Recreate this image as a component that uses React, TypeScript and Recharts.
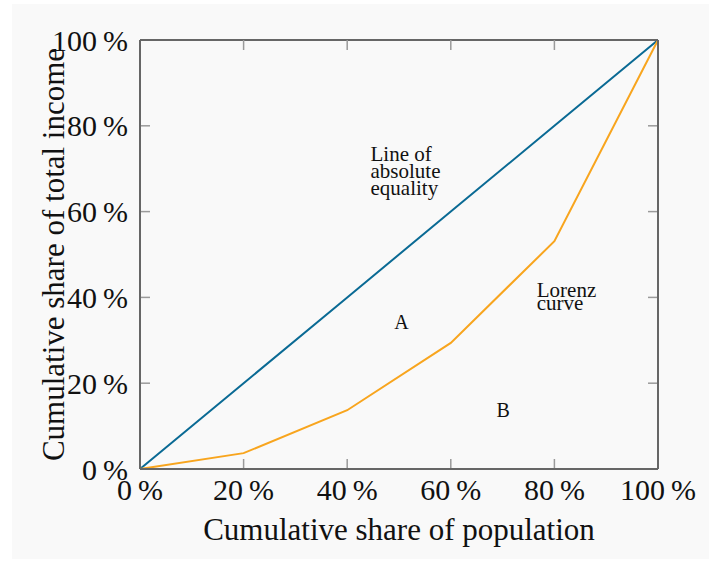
import React from "react";
import { LineChart, Line, XAxis, YAxis, ReferenceDot, ReferenceLine } from "recharts";

const populationShare = [0, 20, 40, 60, 80, 100];
const equalityShare = [0, 20, 40, 60, 80, 100];
const lorenzShare = [0, 3.7, 13.7, 29.4, 53.1, 100];
const axisTicks = [0, 20, 40, 60, 80, 100];
const innerTicks = [20, 40, 60, 80];

const data = populationShare.map((p, i) => ({
  p,
  equality: equalityShare[i],
  lorenz: lorenzShare[i],
}));

const FONT = "'Liberation Serif', 'DejaVu Serif', serif";
const fmt = (v: number) => `${v}\u2009%`;
const TICK_COLOR = "#9a9a9a";
const AXIS_COLOR = "#666";
const tickFont = { fill: "#111", fontFamily: FONT, fontSize: 30 };
// tick mark length expressed in axis units (about 10px on each axis)
const TICK_LEN_X = 1.93;
const TICK_LEN_Y = 2.33;

const emptyTick = () => <g />;

const multiLine = (lines: string[], size: number, lh: number) => (props: any) => {
  const vb = props.viewBox || {};
  const cx = (vb.x ?? 0) + (vb.width ?? 0) / 2;
  const cy = (vb.y ?? 0) + (vb.height ?? 0) / 2;
  const startY = cy - ((lines.length - 1) * lh) / 2;
  return (
    <text x={cx} y={startY} fontFamily={FONT} fontSize={size} fill="#111" dominantBaseline="central">
      {lines.map((l, i) => (
        <tspan key={i} x={cx} y={startY + i * lh}>
          {l}
        </tspan>
      ))}
    </text>
  );
};

const centerLabel = (t: string, size: number) => (props: any) => {
  const vb = props.viewBox || {};
  const cx = (vb.x ?? 0) + (vb.width ?? 0) / 2;
  const cy = (vb.y ?? 0) + (vb.height ?? 0) / 2;
  return (
    <text x={cx} y={cy} fontFamily={FONT} fontSize={size} fill="#111" textAnchor="middle" dominantBaseline="central">
      {t}
    </text>
  );
};

const yLabel = (props: any) => {
  const vb = props.viewBox || {};
  const cx = (vb.x ?? 0) + 4;
  const cy = (vb.y ?? 0) + (vb.height ?? 0) / 2;
  return (
    <text
      x={cx}
      y={cy}
      transform={`rotate(-90, ${cx}, ${cy})`}
      textAnchor="middle"
      fontFamily={FONT}
      fontSize={31}
      fill="#111"
    >
      Cumulative share of total income
    </text>
  );
};

export default function App() {
  return (
    <div style={{ position: "absolute", left: 0, top: 0, width: 709, height: 569, background: "#fff" }}>
      <div style={{ position: "absolute", left: 12, top: 4, width: 697, height: 555, background: "#f9f9f9" }} />
      <div style={{ position: "absolute", left: 0, top: 0 }}>
        <LineChart width={709} height={569} data={data} margin={{ top: 39, right: 50, bottom: 10, left: 60 }}>
          <XAxis
            dataKey="p"
            type="number"
            domain={[0, 100]}
            ticks={axisTicks}
            tickFormatter={fmt}
            height={90}
            tickSize={0}
            tickMargin={10}
            tickLine={false}
            tick={tickFont}
            interval={0}
            axisLine={{ stroke: AXIS_COLOR, strokeWidth: 2 }}
            label={{
              value: "Cumulative share of population",
              position: "insideBottom",
              offset: 19,
              fill: "#111",
              fontFamily: FONT,
              fontSize: 31,
            }}
          />
          <XAxis
            xAxisId="top"
            dataKey="p"
            type="number"
            domain={[0, 100]}
            orientation="top"
            height={1}
            tick={false}
            tickLine={false}
            axisLine={{ stroke: AXIS_COLOR, strokeWidth: 2 }}
          />
          <XAxis
            xAxisId="tickTop"
            dataKey="p"
            type="number"
            domain={[0, 100]}
            ticks={axisTicks}
            orientation="top"
            mirror
            tick={emptyTick}
            axisLine={false}
            tickSize={10}
            tickLine={{ stroke: TICK_COLOR, strokeWidth: 1.5 }}
          />
          <YAxis
            type="number"
            domain={[0, 100]}
            ticks={axisTicks}
            tickFormatter={fmt}
            width={80}
            tickSize={0}
            tickMargin={12}
            tickLine={false}
            tick={tickFont}
            interval={0}
            axisLine={{ stroke: AXIS_COLOR, strokeWidth: 2 }}
            label={{ content: yLabel }}
          />
          <YAxis
            yAxisId="right"
            type="number"
            domain={[0, 100]}
            orientation="right"
            width={1}
            tick={false}
            tickLine={false}
            axisLine={{ stroke: AXIS_COLOR, strokeWidth: 2 }}
          />
          {innerTicks.map((t) => (
            <ReferenceLine
              key={`b${t}`}
              segment={[{ x: t, y: 0 }, { x: t, y: TICK_LEN_Y }]}
              stroke={TICK_COLOR}
              strokeWidth={1.5}
            />
          ))}
          {innerTicks.map((t) => (
            <ReferenceLine
              key={`l${t}`}
              segment={[{ x: 0, y: t }, { x: TICK_LEN_X, y: t }]}
              stroke={TICK_COLOR}
              strokeWidth={1.5}
            />
          ))}
          {innerTicks.map((t) => (
            <ReferenceLine
              key={`r${t}`}
              segment={[{ x: 100, y: t }, { x: 100 - TICK_LEN_X, y: t }]}
              stroke={TICK_COLOR}
              strokeWidth={1.5}
            />
          ))}
          <Line dataKey="equality" stroke="#0a6a94" strokeWidth={2} dot={false} isAnimationActive={false} />
          <Line dataKey="lorenz" stroke="#f8a51e" strokeWidth={2} dot={false} isAnimationActive={false} />
          <ReferenceDot x={50.5} y={34.2} r={0} label={{ content: centerLabel("A", 20) }} />
          <ReferenceDot x={70.1} y={13.8} r={0} label={{ content: centerLabel("B", 20) }} />
          <ReferenceDot
            x={44.5}
            y={69.4}
            r={0}
            label={{ content: multiLine(["Line of", "absolute", "equality"], 21, 17) }}
          />
          <ReferenceDot
            x={76.6}
            y={40.2}
            r={0}
            label={{ content: multiLine(["Lorenz", "curve"], 21, 13) }}
          />
        </LineChart>
      </div>
    </div>
  );
}
